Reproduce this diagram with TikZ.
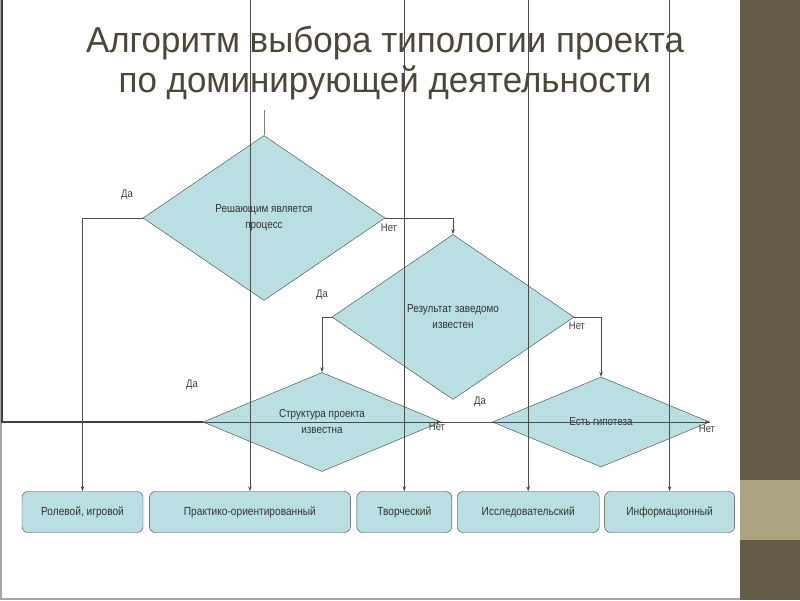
\documentclass[tikz,border=0pt]{standalone}
\usepackage{fontspec}
\setmainfont{Liberation Sans}
\newfontfamily\narrowfont[FakeStretch=0.86]{Liberation Sans}
\newfontfamily\titlefont[FakeStretch=0.97]{Liberation Sans}
\usetikzlibrary{positioning,shapes.geometric,arrows.meta}
\definecolor{boxfill}{HTML}{B9DFE2}
\definecolor{titlecol}{HTML}{4C4838}
\definecolor{stripdark}{HTML}{655C47}
\definecolor{stripband}{HTML}{A9A47F}

\begin{document}
\begin{tikzpicture}[x=1pt, y=-1pt,
    decision/.style={diamond, draw=black!75, fill=boxfill, align=center, inner sep=0pt,
                     font=\narrowfont\fontsize{11.5}{16}\selectfont, text=black!80},
    outcome/.style={rectangle, rounded corners=6pt, draw=black!75, fill=boxfill,
                    minimum height=41pt, inner sep=0pt, text=black!80,
                    font=\narrowfont\fontsize{11.8}{13}\selectfont},
    link/.style={draw=black!70, line width=0.8pt},
    arrow/.style={link, -{Stealth[length=5pt, width=3.5pt]}},
    answer/.style={font=\narrowfont\fontsize{11}{12}\selectfont, text=black!75, inner sep=0pt},
    node distance=6pt
]
\useasboundingbox (0,0) rectangle (800,600);

% Slide background
\fill[white] (0,0) rectangle (800,600);
\fill[stripdark] (740,0) rectangle (800,600);
\fill[stripband] (740,480) rectangle (800,540);
\draw[black!35, line width=2pt] (1,0) -- (1,599) -- (740,599);

% Title
\node[font=\titlefont\fontsize{36}{40}\selectfont, text=titlecol, align=center]
  (title) at (385,63) {Алгоритм выбора типологии проекта\\по доминирующей деятельности};

% Decisions
\node[decision, aspect=1.47, minimum width=242pt, minimum height=165pt] (proc) at (264,218) {Решающим является\\процесс};
\node[decision, aspect=1.47, minimum width=242pt, minimum height=165pt] (result) at (453,317) {Результат заведомо\\известен};
\node[decision, aspect=2.4, minimum width=238pt, minimum height=99pt] (struct) at (322,422) {Структура проекта\\известна};
\node[decision, aspect=2.4, minimum width=217pt, minimum height=90pt] (hyp) at (601,422) {Есть гипотеза};

% Project types
\node[outcome, minimum width=121pt] (role) at (82.5,512) {Ролевой, игровой};
\node[outcome, minimum width=201pt, right=6pt of role] (practice) {Практико-ориентированный};
\node[outcome, minimum width=95pt, right=6pt of practice] (creative) {Творческий};
\node[outcome, minimum width=142pt, right=5pt of creative] (research) {Исследовательский};
\node[outcome, minimum width=130pt, right=5pt of research] (info) {Информационный};

% Free ends
\coordinate (start) at (264,110);
\coordinate (top) at (0,0);
\coordinate (edge) at (2,422);
\coordinate (edgetop) at (2,0);

% Connectors
\draw[link, black!50] (start) -- (proc.north);
\draw[arrow] (proc.west) -| (role.north);
\draw[arrow] (proc.east) -| (result.north);
\draw[arrow] (result.west) -| (struct.north);
\draw[arrow] (result.east) -| (hyp.north);
\draw[arrow] (practice.north |- top) -- (practice.north);
\draw[arrow] (creative.north |- top) -- (creative.north);
\draw[arrow] (research.north |- top) -- (research.north);
\draw[arrow] (info.north |- top) -- (info.north);
\draw[link, line width=1.6pt, black!75] (edgetop) -- (edge) -- (struct.west);
\draw[link] (struct.west) -- (hyp.east);
\draw[arrow] (struct.center) -- (struct.east);
\draw[arrow] (hyp.center) -- (hyp.east);

% Answers
\node[answer] (yes1) at (127,195) {Да};
\node[answer] (no1) at (389,228) {Нет};
\node[answer] (yes2) at (322,295) {Да};
\node[answer] (no2) at (577,326) {Нет};
\node[answer] (yes3) at (192,385) {Да};
\node[answer] (no3) at (437,427) {Нет};
\node[answer] (yes4) at (480,402) {Да};
\node[answer] (no4) at (707,429) {Нет};

\end{tikzpicture}
\end{document}
